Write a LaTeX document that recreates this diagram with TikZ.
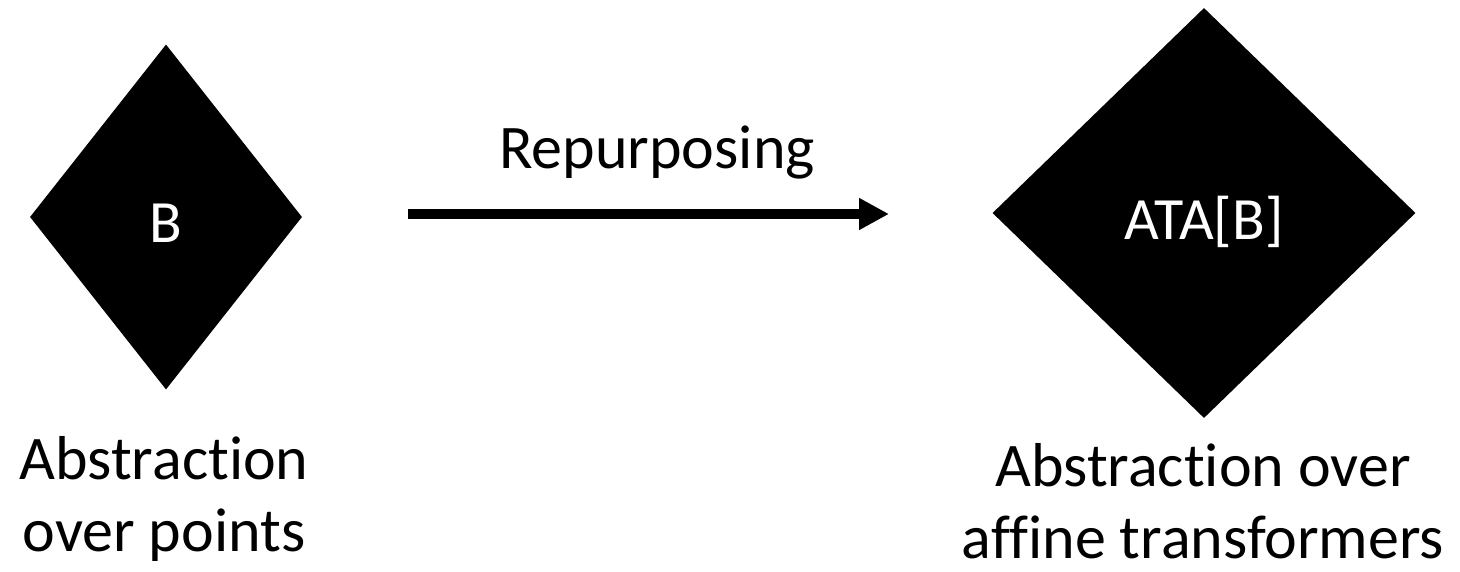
\documentclass[tikz,border=0pt]{standalone}
\usepackage{fontspec}
\setmainfont{Carlito}[Ligatures=NoCommon]
\usetikzlibrary{positioning, shapes.geometric, arrows.meta}

\tikzset{
  bigtext/.style={font=\fontsize{62}{72}\selectfont},
  blackdiamond/.style={diamond,fill=black,inner sep=0pt},
  whitetext/.style={text=white,font=\fontsize{60}{66}\selectfont},
  caption/.style={bigtext,align=center,inner sep=0pt},
}

\begin{document}
\begin{tikzpicture}[x=1pt,y=-1pt]
          \useasboundingbox (0,0) rectangle (1460,572);

          \node (b) [blackdiamond,minimum width=272pt,minimum height=345pt] at (166,217) {};
          \node (atab) [blackdiamond,minimum width=423pt,minimum height=410pt] at (1204,213) {};
          \node (btxt) [whitetext] at (166,223) {B};
          \node (atabtxt) [whitetext] at (1204,222) {ATA[B]};

          \node (bcap) [caption,anchor=north] at (164,436) {Abstraction\\over points};
          \node (atabcap) [caption,anchor=north] at (1203,443) {Abstraction over\\affine transformers};

          \coordinate (from) at (408,214);
          \coordinate (to) at (889,214);
          \draw [line width=10pt,-{Triangle[length=30pt,width=30pt]}] (from) -- (to);
          \node (repurp) [bigtext,inner sep=0pt] at (657,153) {Repurposing};
        \end{tikzpicture}
\end{document}
